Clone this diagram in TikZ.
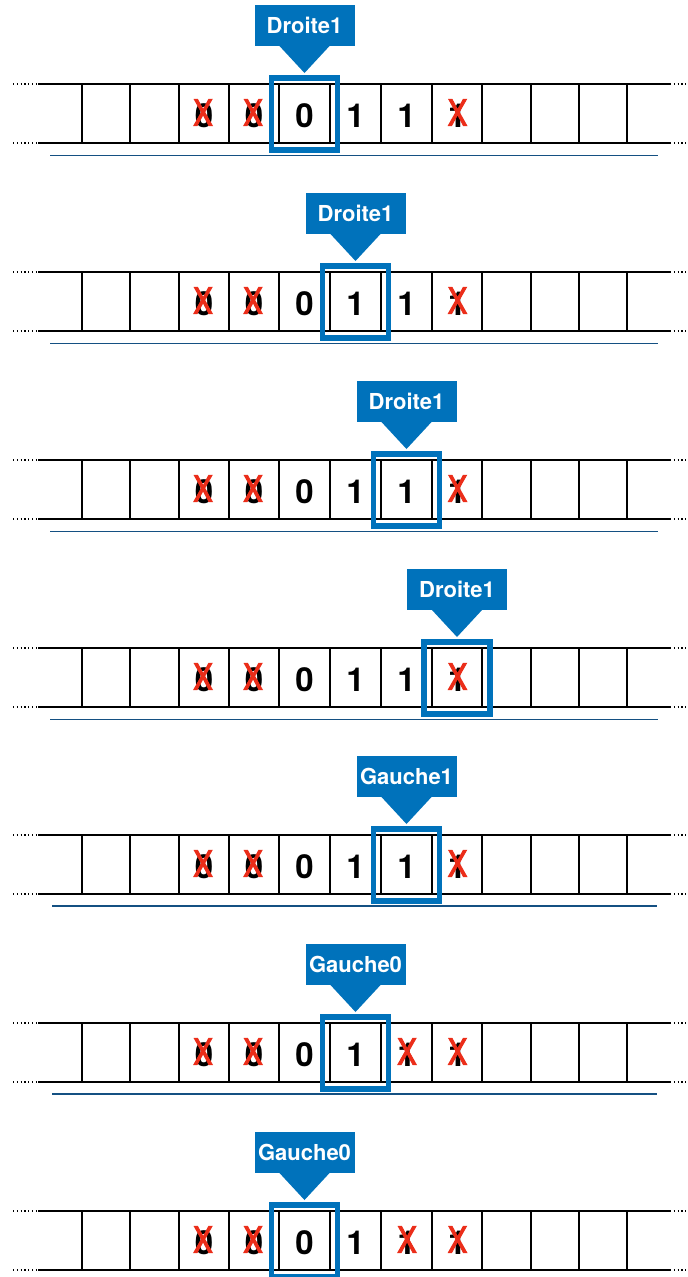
\documentclass[tikz,border=0pt]{standalone}
\usepackage{fontspec}
\setmainfont{TeX Gyre Heros}
\definecolor{headblue}{RGB}{0,114,187}
\definecolor{sepblue}{RGB}{20,80,130}
\definecolor{xred}{RGB}{235,45,25}
\newcommand{\thickX}{\special{pdf:literal direct 2 Tr 1 w}X\special{pdf:literal direct 0 Tr}}
\begin{document}
\begin{tikzpicture}[x=1pt,y=-1pt,
  tapeline/.style={line width=1.3pt,black},
  dotline/.style={line width=1.2pt, dash pattern=on 1.2pt off 2.6pt},
  digit/.style={font=\fontsize{33}{33}\selectfont\bfseries, inner sep=0pt},
  cross/.style={font=\fontsize{36}{36}\selectfont, text=xred, inner sep=0pt, xscale=0.82},
  headframe/.style={draw=headblue, line width=5.5pt},
  headlabel/.style={fill=headblue, text=white, font=\fontsize{22}{22}\selectfont\bfseries, minimum width=100pt, minimum height=41pt, inner sep=0pt},
  pointer/.style={fill=headblue},
  sepline/.style={draw=sepblue, line width=1pt},
  septhick/.style={draw=sepblue, line width=2pt}]
\useasboundingbox (0,0) rectangle (688,1277);
% rows: index / tape top / head centre / label / cross flag cell 5 / separator kind
\foreach \r/\t/\hc/\lab/\fa/\sep in {
  1/84/304.5/Droite1/0/1,
  2/272/355.5/Droite1/0/1,
  3/460/406.5/Droite1/0/1,
  4/648/457/Droite1/0/1,
  5/835/406.5/Gauche1/0/2,
  6/1023/355.5/Gauche0/1/2,
  7/1211/304.5/Gauche0/1/0}{
  \pgfmathsetmacro{\b}{\t+59}
  \pgfmathsetmacro{\m}{\t+31.5}
  \pgfmathsetmacro{\xm}{\t+28.5}
  % tape
  \coordinate (tl\r) at (38,\t);
  \coordinate (tr\r) at (670,\t);
  \coordinate (bl\r) at (38,\b);
  \coordinate (br\r) at (670,\b);
  \draw[tapeline] (tl\r) -- (tr\r);
  \draw[tapeline] (bl\r) -- (br\r);
  \draw[dotline] (13,\t) -- (tl\r);
  \draw[dotline] (13,\b) -- (bl\r);
  \draw[dotline] (tr\r) -- (688,\t);
  \draw[dotline] (br\r) -- (688,\b);
  \foreach \x in {82,130,179,229,279,330,381,432,482,531,579,627}{
    \draw[tapeline] (\x,\t) -- (\x,\b);
  }
  % contents
  \node[digit] (c1r\r) at (204,\m) {0};
  \node[cross] (x1r\r) at (203,\xm) {\thickX};
  \node[digit] (c2r\r) at (254,\m) {0};
  \node[cross] (x2r\r) at (253,\xm) {\thickX};
  \node[digit] (c3r\r) at (304.5,\m) {0};
  \node[digit] (c4r\r) at (355.5,\m) {1};
  \node[digit] (c5r\r) at (406.5,\m) {1};
  \ifnum\fa=1 \node[cross] (x5r\r) at (407,\xm) {\thickX};\fi
  \node[digit] (c6r\r) at (457,\m) {1};
  \node[cross] (x6r\r) at (457.5,\xm) {\thickX};
  % head
  \draw[headframe] (\hc-33,\t-6) rectangle (\hc+33,\b+7);
  \node[headlabel] (lab\r) at (\hc,\t-58.5) {\lab};
  \fill[pointer] (\hc-25.5,\t-38.5) -- (\hc+25.5,\t-38.5) -- (\hc,\t-11) -- cycle;
  % separator
  \ifnum\sep=1 \draw[sepline] (50,\t+71) -- (658,\t+71);\fi
  \ifnum\sep=2 \draw[septhick] (52,\t+71) -- (657,\t+71);\fi
}
\end{tikzpicture}
\end{document}
